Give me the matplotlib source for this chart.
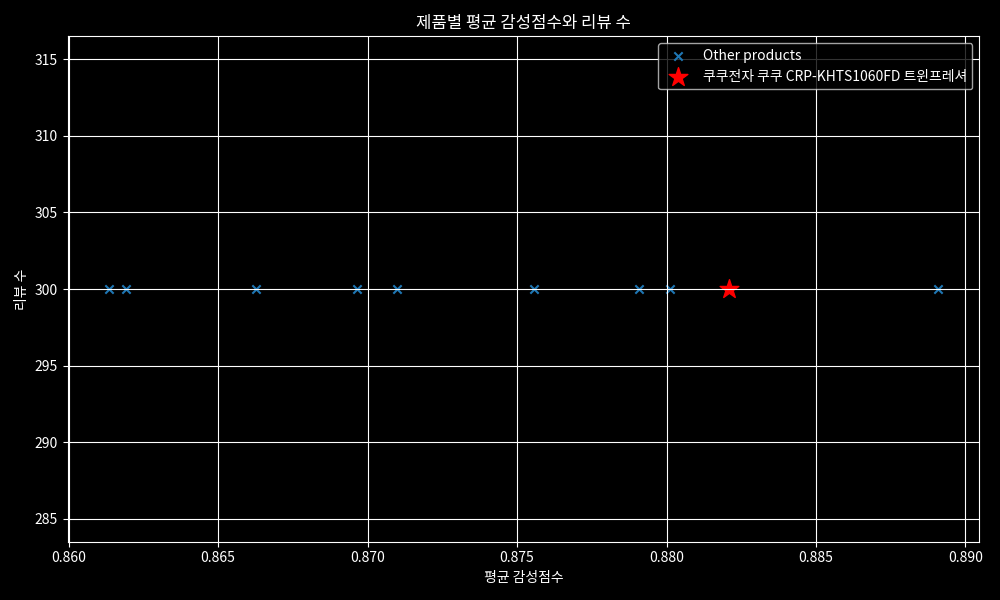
import numpy as np
import matplotlib
matplotlib.use('Agg')
import matplotlib.pyplot as plt

plt.style.use('dark_background')
plt.rcParams['font.family'] = ['Noto Sans CJK KR', 'DejaVu Sans']
plt.rcParams['axes.unicode_minus'] = False

# average sentiment score / review count per product
other_scores = [0.86135, 0.86193, 0.86628, 0.86966, 0.87100,
                0.87556, 0.87909, 0.88010, 0.88908]
other_reviews = [300, 300, 300, 300, 300, 300, 300, 300, 300]

target_name = '쿠쿠전자 쿠쿠 CRP-KHTS1060FD 트윈프레셔'
target_score = [0.88208]
target_reviews = [300]

fig, ax = plt.subplots(figsize=(10, 6), dpi=100)

ax.scatter(other_scores, other_reviews, marker='x', color='#1f77b4',
           label='Other products')
ax.scatter(target_score, target_reviews, marker='*', color='red', s=200,
           label=target_name)

ax.set_title('제품별 평균 감성점수와 리뷰 수')
ax.set_xlabel('평균 감성점수')
ax.set_ylabel('리뷰 수')
ax.grid(True)
ax.legend(loc='upper right')

plt.tight_layout()
plt.savefig('out.png')
